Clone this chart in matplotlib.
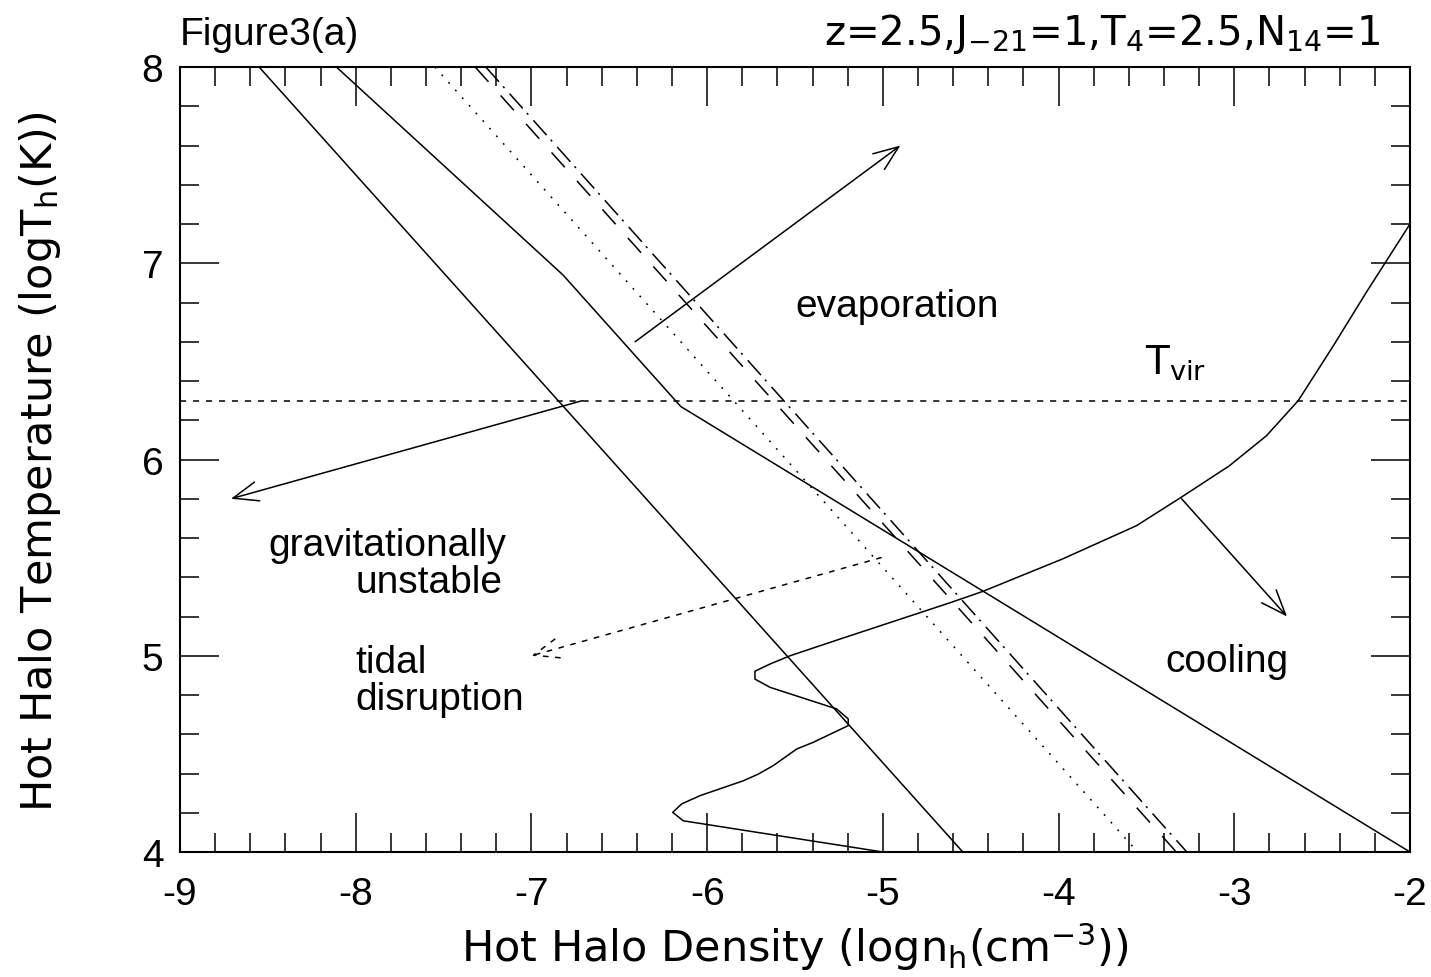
#
# Figure3(a): hot halo density vs temperature
#

import numpy as np
import matplotlib
matplotlib.use("Agg")
from matplotlib import pyplot as plt

# solid line, left
line_a_x = [-8.55, -4.545]
line_a_y = [8.0, 4.0]

# solid line with kinks
line_b_x = [-8.11, -6.82, -6.15, -2.0]
line_b_y = [8.0, 6.94, 6.27, 4.0]

# dotted / dashed / dash-dot diagonals
dotted_x = [-7.55, -3.55]
dashed_x = [-7.32, -3.33]
dashdot_x = [-7.26, -3.27]
diag_y = [8.0, 4.0]

# virial temperature
t_vir = 6.3

# cooling curve
cool_x = [-5.00, -6.136, -6.196, -6.145, -6.041, -5.794, -5.709, -5.624, -5.490,
          -5.396, -5.197, -5.197, -5.263, -5.642, -5.728, -5.728, -5.642, -5.528,
          -5.244, -4.611, -4.431, -3.978, -3.556, -3.303, -3.028, -2.817, -2.636,
          -2.436, -2.250, -2.0]
cool_y = [4.00, 4.159, 4.202, 4.245, 4.287, 4.363, 4.397, 4.440, 4.525,
          4.559, 4.644, 4.678, 4.729, 4.839, 4.881, 4.921, 4.958, 5.000,
          5.085, 5.272, 5.328, 5.493, 5.663, 5.807, 5.968, 6.121, 6.300,
          6.580, 6.850, 7.20]

# arrows: (tail, head)
arrow_evap = ((-6.41, 6.60), (-4.90, 7.60))
arrow_grav = ((-6.71, 6.30), (-8.71, 5.80))
arrow_cool = ((-3.30, 5.80), (-2.70, 5.20))
arrow_tidal = ((-5.01, 5.50), (-7.00, 5.00))

sans = "Liberation Sans"
hers = "DejaVu Sans"
plt.rcParams["mathtext.fontset"] = "dejavusans"

fig = plt.figure(figsize=(14.31, 9.78), dpi=100)
ax = fig.add_axes([0.12579, 0.12781, 0.85954, 0.80266])

lw = 1.1
ax.plot(line_a_x, line_a_y, color="black", lw=lw)
ax.plot(line_b_x, line_b_y, color="black", lw=lw)
ax.plot(dotted_x, diag_y, color="black", lw=lw, linestyle=(0, (1.2, 5.5)))
ax.plot(dashed_x, diag_y, color="black", lw=lw, linestyle=(0, (13, 12)))
ax.plot(dashdot_x, diag_y, color="black", lw=lw, linestyle=(0, (13, 4, 1.4, 5)))
ax.axhline(t_vir, color="black", lw=lw, linestyle=(0, (4, 4.5)))
ax.plot(cool_x, cool_y, color="black", lw=lw)

astyle = "->,head_length=0.9,head_width=0.35"
for (tail, head), ls in [(arrow_evap, "-"), (arrow_grav, "-"), (arrow_cool, "-"),
                         (arrow_tidal, (0, (3, 5)))]:
    ax.annotate("", xy=head, xytext=tail,
                arrowprops=dict(arrowstyle=astyle, mutation_scale=20, color="black",
                                lw=lw, linestyle=ls, shrinkA=0, shrinkB=0))

fs = 28
ax.text(-4.92, 6.731, "evaporation", fontsize=fs, family=sans, ha="center", va="baseline")
ax.text(-8.499, 5.513, "gravitationally", fontsize=fs, family=sans, va="baseline")
ax.text(-8.004, 5.325, "unstable", fontsize=fs, family=sans, va="baseline")
ax.text(-8.004, 4.917, "tidal", fontsize=fs, family=sans, va="baseline")
ax.text(-8.004, 4.729, "disruption", fontsize=fs, family=sans, va="baseline")
ax.text(-3.394, 4.922, "cooling", fontsize=fs, family=sans, va="baseline")
ax.text(-3.508, 6.436, r"T$_{\rm vir}$", fontsize=28, family=hers, va="baseline")

ax.set_xlim(-9, -2)
ax.set_ylim(4, 8)
ax.set_xticks(np.arange(-9, -1.5, 1))
ax.set_yticks(np.arange(4, 8.5, 1))
ax.set_xticks(np.arange(-9, -1.9, 0.2), minor=True)
ax.set_yticks(np.arange(4, 8.05, 0.2), minor=True)
ax.tick_params(which="both", direction="in", top=True, right=True, width=1.1)
ax.tick_params(which="major", length=28, labelsize=fs)
ax.tick_params(which="minor", length=14)
ax.tick_params(axis="x", pad=17)
ax.tick_params(axis="y", pad=12)
for lab in ax.get_xticklabels() + ax.get_yticklabels():
    lab.set_family(sans)
ax.set_xticklabels([str(int(v)) for v in np.arange(-9, -1.5, 1)])
for sp in ax.spines.values():
    sp.set_linewidth(1.5)

fig.text(0.5556, 0.031, r"Hot Halo Density (logn$_{\rm h}$(cm$^{-3}$))",
         fontsize=31, family=hers, ha="center", va="center")
fig.text(0.028, 0.528, r"Hot Halo Temperature (logT$_{\rm h}$(K))",
         fontsize=31, family=hers, ha="center", va="center", rotation=90)
fig.text(0.1258, 0.954, "Figure3(a)", fontsize=fs, family=sans, va="baseline")
fig.text(0.9644, 0.954, r"z=2.5,J$_{-21}$=1,T$_{4}$=2.5,N$_{14}$=1",
         fontsize=29, family=hers, ha="right", va="baseline")

fig.savefig("out.png", dpi=100)
